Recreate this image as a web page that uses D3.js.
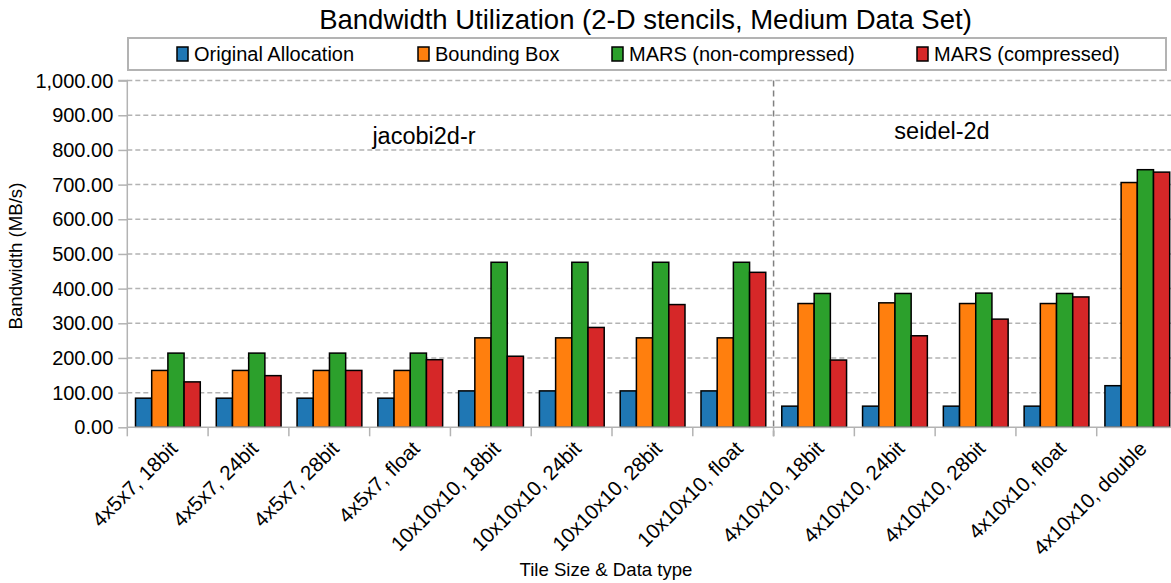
<!DOCTYPE html>
<html><head><meta charset="utf-8">
<script src="https://cdn.jsdelivr.net/npm/d3@7"></script>
<style>body{margin:0;background:#fff;} svg{display:block;font-family:"Liberation Sans",Arial,sans-serif;}</style>
</head><body><svg id="c" width="1171" height="583"></svg>
<script>
const categories = ["4x5x7, 18bit","4x5x7, 24bit","4x5x7, 28bit","4x5x7, float","10x10x10, 18bit","10x10x10, 24bit","10x10x10, 28bit","10x10x10, float","4x10x10, 18bit","4x10x10, 24bit","4x10x10, 28bit","4x10x10, float","4x10x10, double"];
const seriesNames = ["Original Allocation","Bounding Box","MARS (non-compressed)","MARS (compressed)"];
const originalAllocation = [84,84,84,84,105,105,105,105,61,61,61,61,120];
const boundingBox = [164,164,164,164,258,258,258,258,357,359,357,357,706];
const marsNonCompressed = [214,214,214,214,476,476,476,476,386,386,387,386,743];
const marsCompressed = [131,149,164,195,205,288,354,447,194,264,312,376,736];
const yTicks = [0,100,200,300,400,500,600,700,800,900,1000];
const colors = ["#1f77b4","#ff7f0e","#2ca02c","#d62728"];
const groups = [{name:"jacobi2d-r", from:0, to:7},{name:"seidel-2d", from:8, to:12}];

const series = [originalAllocation, boundingBox, marsNonCompressed, marsCompressed];
const svg = d3.select("#c");
const L = 127.3, R = 1177.5, T = 80.6, B = 427.3;
const x = d3.scaleBand().domain(categories).range([L, R]).padding(0);
const step = x.step();
const y = d3.scaleLinear().domain([0,1000]).range([B, T]);
const xs = d3.scaleBand().domain(d3.range(4)).range([0, step - 16]);

// gridlines
svg.append("g").selectAll("line").data(yTicks.filter(d=>d>0)).join("line")
  .attr("x1", L).attr("x2", R).attr("y1", d=>y(d)).attr("y2", d=>y(d))
  .attr("stroke","#b3b3b3").attr("stroke-width",1.5).attr("stroke-dasharray","5,3");

// y axis
const yAxis = d3.axisLeft(y).tickValues(yTicks).tickSize(9).tickPadding(5)
  .tickFormat(d=>d3.format(",.2f")(d));
const gy = svg.append("g").attr("transform",`translate(${L},0)`).call(yAxis);
gy.select(".domain").attr("stroke","#b3b3b3").attr("stroke-width",1.5).attr("d",`M-9,${T}H0V${B}`);
gy.selectAll(".tick line").attr("stroke","#b3b3b3").attr("stroke-width",1.5);
gy.selectAll(".tick text").attr("font-size","20px").attr("fill","#000").attr("font-family","Liberation Sans");

// group separator
svg.append("line").attr("x1", x(categories[8])).attr("x2", x(categories[8])).attr("y1", T).attr("y2", B+9)
  .attr("stroke","#808080").attr("stroke-width",1.5).attr("stroke-dasharray","6,4");

// bars
categories.forEach((c,i)=>{
  const g = svg.append("g").attr("transform",`translate(${x(c) + 8.2},0)`);
  g.selectAll("rect").data(series.map((s,k)=>({k, v:s[i]}))).join("rect")
    .attr("x", d=>xs(d.k)).attr("width", xs.bandwidth())
    .attr("y", d=>y(d.v)).attr("height", d=>B - y(d.v))
    .attr("fill", d=>colors[d.k]).attr("stroke","#000").attr("stroke-width",1.5);
});

// x axis
svg.append("line").attr("x1",L).attr("x2",R).attr("y1",B).attr("y2",B).attr("stroke","#b3b3b3").attr("stroke-width",1.5);
svg.append("g").selectAll("line").data(d3.range(categories.length+1)).join("line")
  .attr("x1", i=>L+i*step).attr("x2", i=>L+i*step).attr("y1",B).attr("y2",B+9)
  .attr("stroke","#b3b3b3").attr("stroke-width",1.5);
svg.append("g").selectAll("text").data(categories).join("text")
  .attr("transform",d=>`translate(${x(d)+step/2+11},450) rotate(-45)`)
  .attr("text-anchor","end").attr("font-size","20.5px").text(d=>d);

// group labels
svg.append("text").attr("x", 424).attr("y", 144).attr("text-anchor","middle").attr("font-size","23.5px").text(groups[0].name);
svg.append("text").attr("x", 942).attr("y", 139).attr("text-anchor","middle").attr("font-size","23.5px").text(groups[1].name);

// title
svg.append("text").attr("x", 645.5).attr("y", 29).attr("text-anchor","middle").attr("font-size","27.5px").text("Bandwidth Utilization (2-D stencils, Medium Data Set)");
// axis titles
svg.append("text").attr("transform","translate(22,256) rotate(-90)").attr("text-anchor","middle").attr("font-size","18.6px").text("Bandwidth (MB/s)");
svg.append("text").attr("x", 606).attr("y", 576).attr("text-anchor","middle").attr("font-size","18.6px").text("Tile Size & Data type");

// legend
svg.append("rect").attr("x",128).attr("y",38).attr("width",1038).attr("height",32).attr("fill","#fff").attr("stroke","#b3b3b3").attr("stroke-width",2);
const legX = [177, 418, 612, 917];
const lg = svg.append("g").selectAll("g").data(seriesNames).join("g").attr("transform",(d,i)=>`translate(${legX[i]},47)`);
lg.append("rect").attr("width",11).attr("height",14).attr("fill",(d,i)=>colors[i]).attr("stroke","#000").attr("stroke-width",1.5);
lg.append("text").attr("x",17).attr("y",14).attr("font-size","20px").text(d=>d);
</script></body></html>
